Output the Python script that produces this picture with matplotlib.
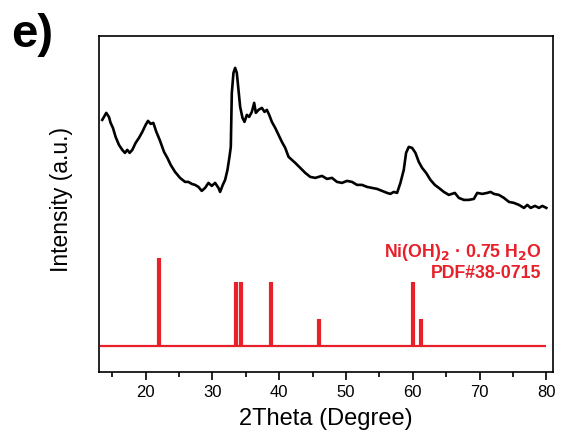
import matplotlib.pyplot as plt

plt.rcParams['font.family'] = ['Liberation Sans', 'DejaVu Sans']

# measured XRD pattern (2theta, intensity a.u.)
two_theta = [13.5, 14.1, 14.5, 14.75, 15.1, 15.5, 16.0, 16.5, 16.9, 17.25, 17.6, 18.0,
             18.5, 19.0, 19.5, 20.0, 20.35, 20.75, 21.15, 21.6, 22.1, 22.75, 23.25, 23.75,
             24.4, 25.15, 25.9, 26.4, 26.9, 27.4, 27.9, 28.4, 28.9, 29.4, 29.9, 30.4,
             30.9, 31.15, 31.55, 31.9, 32.25, 32.55, 32.75, 32.9, 33.15, 33.4, 33.65, 33.9,
             34.15, 34.5, 34.8, 35.15, 35.5, 35.9, 36.25, 36.5, 36.9, 37.4, 37.8, 38.15,
             38.5, 38.9, 39.4, 39.9, 40.4, 40.9, 41.4, 41.9, 42.4, 43.15, 43.9, 44.65,
             45.4, 46.4, 47.15, 47.9, 48.65, 49.4, 50.15, 50.9, 51.65, 52.4, 53.15, 53.9,
             54.65, 55.4, 56.15, 56.65, 57.15, 57.65, 58.15, 58.65, 59.0, 59.4, 59.9, 60.4,
             60.9, 61.4, 62.0, 62.65, 63.3, 63.9, 64.65, 65.4, 66.3, 66.9, 67.65, 68.4,
             69.15, 69.65, 70.4, 71.15, 71.65, 72.15, 72.9, 73.65, 74.4, 75.15, 75.9, 76.65,
             77.15, 77.65, 78.3, 78.9, 79.4, 80.0]
intensity = [252, 259, 255, 249, 244, 235, 227, 222, 219, 222, 219, 222,
             229, 234, 240, 247, 251, 248, 249, 240, 232, 220, 214, 207,
             200, 194, 190, 190, 188, 187, 185, 181, 184, 189, 186, 189,
             184, 180, 187, 192, 202, 215, 225, 279, 299, 304, 299, 282,
             265, 254, 250, 257, 255, 260, 269, 259, 262, 264, 260, 262,
             257, 250, 244, 237, 230, 224, 215, 212, 209, 204, 199, 195,
             194, 196, 193, 194, 190, 189, 191, 190, 187, 187, 185, 184,
             183, 181, 179, 178, 180, 179, 189, 202, 219, 225, 224, 219,
             210, 204, 199, 192, 187, 184, 180, 177, 179, 174, 172, 172,
             173, 179, 178, 179, 180, 178, 177, 174, 170, 169, 167, 164,
             167, 164, 166, 164, 166, 164]

# reference pattern PDF#38-0715
ref_pos = [22.0, 33.5, 34.3, 38.8, 46.0, 60.0, 61.3]
ref_height = [88, 64, 64, 64, 27, 64, 27]
ref_base = 26

red = '#e8202a'

fig = plt.figure(figsize=(5.62, 4.32), dpi=100)
ax = fig.add_axes([0.176, 0.139, 0.808, 0.778])

ax.plot(two_theta, intensity, color='black', lw=1.9)
ax.hlines(ref_base, 13.2, 80, color=red, lw=1.6)
ax.vlines(ref_pos, ref_base, [ref_base + h for h in ref_height], color=red, lw=3)

ax.text(79.3, 115, 'Ni(OH)$_\\mathbf{2}$ · 0.75 H$_\\mathbf{2}$O', color=red,
        fontsize=12.8, fontweight='bold', ha='right', va='baseline')
ax.text(79.3, 94, 'PDF#38-0715', color=red, fontsize=12.8, fontweight='bold',
        ha='right', va='baseline')

ax.set_xlim(13, 81)
ax.set_ylim(0, 336)
ax.set_xticks([20, 30, 40, 50, 60, 70, 80])
ax.set_xticks([15, 25, 35, 45, 55, 65, 75], minor=True)
ax.set_yticks([])
ax.tick_params(axis='x', which='major', direction='out', length=6, width=1.2, labelsize=12)
ax.tick_params(axis='x', which='minor', direction='out', length=3.5, width=1.2)
for s in ax.spines.values():
    s.set_linewidth(1.2)

ax.set_xlabel('2Theta (Degree)', fontsize=17, labelpad=6)
ax.set_ylabel('Intensity (a.u.)', fontsize=16.5)
ax.yaxis.set_label_coords(-0.057, 0.512)

fig.text(0.02, 0.891, 'e)', fontsize=34, fontweight='bold', va='baseline')

fig.savefig('out.png', dpi=100)
